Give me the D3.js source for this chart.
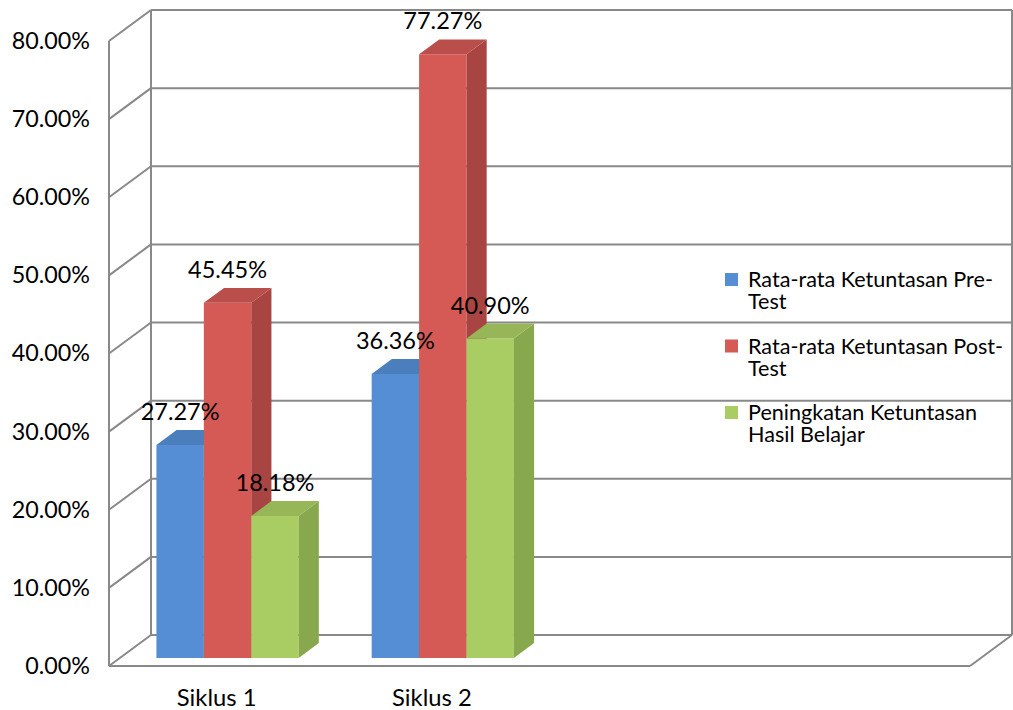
<!DOCTYPE html>
<html>
<head>
<meta charset="utf-8">
<script src="https://cdn.jsdelivr.net/npm/d3@7"></script>
<style>
  html, body { margin: 0; padding: 0; background: #fff; }
  svg { display: block; font-family: Lato, "Open Sans", sans-serif; }
</style>
</head>
<body>
<svg id="chart" width="1013" height="710"></svg>
<script>
// Categories (the last two slots are left empty on the category axis)
const categories = ["Siklus 1", "Siklus 2", "", ""];
const seriesNames = [
  "Rata-rata Ketuntasan Pre-Test",
  "Rata-rata Ketuntasan Post-Test",
  "Peningkatan Ketuntasan Hasil Belajar"
];
const legendLines = [
  ["Rata-rata Ketuntasan Pre-", "Test"],
  ["Rata-rata Ketuntasan Post-", "Test"],
  ["Peningkatan Ketuntasan", "Hasil Belajar"]
];
const preTest  = [0.2727, 0.3636];
const postTest = [0.4545, 0.7727];
const gain     = [0.1818, 0.4090];
const yTicks = [0, 0.1, 0.2, 0.3, 0.4, 0.5, 0.6, 0.7, 0.8];

// face colours per series: front, side, top
const palette = [
  { front: "#558ed5", side: "#4575b0", top: "#4a7ebd" },
  { front: "#d55a56", side: "#a84542", top: "#b94e4b" },
  { front: "#a9cc63", side: "#88a84d", top: "#96b657" }
];

const svg = d3.select("#chart");

// front plane of the 3-D box
const frontLeft = 109, frontRight = 970;
const depthX = 42, depthY = 31;     // offset from front plane to back wall
const barZ0 = 0.26, barZ1 = 0.74;   // bar depth inside the box (0 = front, 1 = back)

const y = d3.scaleLinear().domain([0, 0.8]).range([666, 41]);
const x = d3.scaleBand().domain(d3.range(categories.length)).range([frontLeft, frontRight]);
const xSub = d3.scaleBand().domain(d3.range(seriesNames.length))
  .range([36.5, x.bandwidth() - 36.5]);

// project a front-plane point (px, py) into depth z
const P = (px, py, z) => [px + z * depthX, py - z * depthY];

const gridColor = "#898989";
const grid = svg.append("g").attr("stroke", gridColor).attr("stroke-width", 2).attr("fill", "none");
const seg = (a, b) => grid.append("line")
  .attr("x1", a[0]).attr("y1", a[1]).attr("x2", b[0]).attr("y2", b[1]);

yTicks.forEach(v => {
  // back wall gridline
  seg(P(frontLeft, y(v), 1), P(frontRight, y(v), 1));
  // side wall gridline
  seg(P(frontLeft, y(v), 0), P(frontLeft, y(v), 1));
});
// box edges
seg(P(frontLeft, y(0), 0), P(frontLeft, y(0.8), 0));
seg(P(frontLeft, y(0), 1), P(frontLeft, y(0.8), 1));
seg(P(frontRight, y(0), 1), P(frontRight, y(0.8), 1));
// floor front edge and right diagonal
seg(P(frontLeft, y(0), 0), P(frontRight, y(0), 0));
seg(P(frontRight, y(0), 0), P(frontRight, y(0), 1));

// bars
const seriesValues = [preTest, postTest, gain];
const bars = [];
[0, 1].forEach(ci => {
  seriesValues.forEach((vals, si) => {
    bars.push({ ci, si, v: vals[ci] });
  });
});

const poly = pts => pts.map(p => p.join(",")).join(" ");
const barG = svg.append("g");
bars.forEach(b => {
  const x0 = x(b.ci) + xSub(b.si);
  const x1 = x0 + xSub.bandwidth();
  const yt = y(b.v), yb = y(0);
  const c = palette[b.si];
  const g = barG.append("g");
  // front face
  g.append("polygon").attr("fill", c.front)
    .attr("points", poly([P(x0, yt, barZ0), P(x1, yt, barZ0), P(x1, yb, barZ0), P(x0, yb, barZ0)]));
  // right side face
  g.append("polygon").attr("fill", c.side)
    .attr("points", poly([P(x1, yt, barZ0), P(x1, yt, barZ1), P(x1, yb, barZ1), P(x1, yb, barZ0)]));
  // top face
  g.append("polygon").attr("fill", c.top)
    .attr("points", poly([P(x0, yt, barZ0), P(x0, yt, barZ1), P(x1, yt, barZ1), P(x1, yt, barZ0)]));
});

// value labels above each bar
const fmt = d3.format(".2%");
svg.append("g").selectAll("text").data(bars).join("text")
  .attr("x", b => P(x(b.ci) + xSub(b.si) + xSub.bandwidth() / 2, 0, barZ0)[0])
  .attr("y", b => P(0, y(b.v), barZ1)[1] - 10)
  .attr("text-anchor", "middle")
  .attr("font-size", 23.5)
  .attr("fill", "#000")
  .text(b => fmt(b.v));

// value axis
const yAxis = svg.append("g").attr("transform", "translate(90,0)")
  .call(d3.axisLeft(y).tickValues(yTicks).tickFormat(d3.format(".2%")).tickSize(0).tickPadding(0));
yAxis.select(".domain").remove();
yAxis.selectAll("text").attr("font-size", 23.3).attr("font-family", "Lato").attr("fill", "#000");

// category axis
const xAxis = svg.append("g").attr("transform", "translate(0,680)")
  .call(d3.axisBottom(x).tickFormat(i => categories[i]).tickSize(0).tickPadding(0));
xAxis.select(".domain").remove();
xAxis.selectAll("text").attr("font-size", 23.8).attr("font-family", "Lato").attr("fill", "#000")
  .attr("dy", null).attr("y", 26);

// legend
const legend = svg.append("g").attr("transform", "translate(725,287)");
legendLines.forEach((lines, i) => {
  const g = legend.append("g").attr("transform", `translate(0,${i * 66.5})`);
  g.append("rect").attr("x", 0).attr("y", -14).attr("width", 13).attr("height", 13)
    .attr("fill", palette[i].front);
  const t = g.append("text").attr("x", 23).attr("y", 0).attr("font-size", 21.6).attr("fill", "#000");
  lines.forEach((ln, k) => {
    t.append("tspan").attr("x", 23).attr("y", k * 22).text(ln);
  });
});
</script>
</body>
</html>
